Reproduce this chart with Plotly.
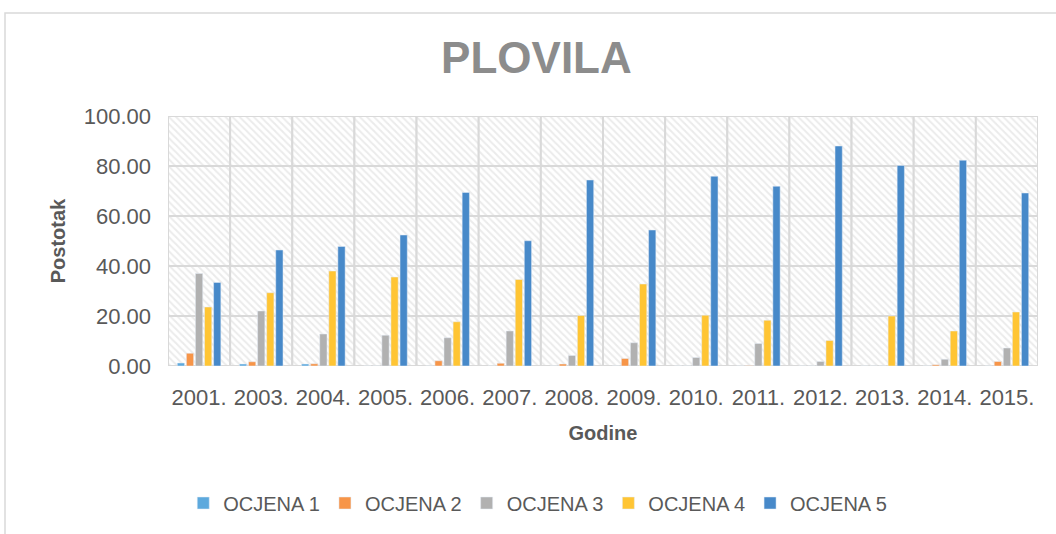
import plotly.graph_objects as go

# data
godine = ['2001.', '2003.', '2004.', '2005.', '2006.', '2007.', '2008.',
          '2009.', '2010.', '2011.', '2012.', '2013.', '2014.', '2015.']
ocjena_1 = [1.2, 0.8, 0.8, 0, 0, 0, 0, 0, 0, 0, 0, 0, 0, 0]
ocjena_2 = [5.1, 1.7, 0.9, 0, 2.1, 1.1, 0.8, 3.0, 0, 0.2, 0, 0, 0.5, 1.8]
ocjena_3 = [37.0, 22.0, 12.8, 12.3, 11.3, 14.0, 4.2, 9.3, 3.4, 9.0, 1.8, 0, 2.7, 7.2]
ocjena_4 = [23.6, 29.3, 38.0, 35.6, 17.7, 34.6, 20.2, 32.8, 20.3, 18.3, 10.2, 20.0, 14.0, 21.6]
ocjena_5 = [33.4, 46.4, 47.8, 52.4, 69.4, 50.1, 74.4, 54.4, 75.9, 71.9, 88.0, 80.2, 82.3, 69.2]
y_ticks = [0, 20, 40, 60, 80, 100]

series = [('OCJENA 1', ocjena_1, '#5DA9DD'),
          ('OCJENA 2', ocjena_2, '#F79548'),
          ('OCJENA 3', ocjena_3, '#B1B1B1'),
          ('OCJENA 4', ocjena_4, '#FFC534'),
          ('OCJENA 5', ocjena_5, '#4789C9')]

fnt = 'Liberation Sans, Arial, sans-serif'
txt = '#595959'

fig = go.Figure()

# hatched plot background, cell borders act as gridlines
bg_x, bg_base = [], []
for lo in y_ticks[:-1]:
    bg_x += godine
    bg_base += [lo] * len(godine)
fig.add_trace(go.Bar(x=bg_x, y=[20] * len(bg_x), base=bg_base, width=1, offset=-0.5,
                     marker=dict(color='white',
                                 pattern=dict(shape='\\', fgcolor='#d8d8d8', bgcolor='white',
                                              size=5, solidity=0.4),
                                 line=dict(color='#d9d9d9', width=2)),
                     showlegend=False, hoverinfo='skip', xaxis='x', yaxis='y'))

for name, vals, col in series:
    fig.add_trace(go.Bar(x=godine, y=vals, name=name, marker_color=col,
                         xaxis='x2', yaxis='y2'))

fig.update_layout(
    width=1056, height=534, autosize=False,
    paper_bgcolor='white', plot_bgcolor='white',
    margin=dict(l=168, r=18, t=116, b=168),
    barmode='group', bargap=0.27, bargroupgap=0.2,
    font=dict(family=fnt, color=txt),
    title=dict(text='<b>PLOVILA</b>', x=0.508, xanchor='center', y=0.893, yanchor='middle',
               font=dict(size=44, color='#8c8c8c', family=fnt)),
    xaxis=dict(type='category', categoryorder='array', categoryarray=godine,
               range=[-0.5, 13.5], showgrid=False, zeroline=False, showline=False,
               ticks='', ticklabelstandoff=16, tickfont=dict(size=22, color=txt),
               automargin=False,
               title=dict(text='<b>Godine</b>', font=dict(size=20, color=txt), standoff=16)),
    yaxis=dict(range=[0, 100], tickvals=y_ticks, tickformat='.2f', showgrid=False,
               zeroline=False, showline=False, ticks='', ticklabelstandoff=16,
               tickfont=dict(size=22, color=txt), automargin=False,
               title=dict(text='<b>Postotak</b>', font=dict(size=20, color=txt), standoff=12)),
    xaxis2=dict(type='category', categoryorder='array', categoryarray=godine,
                range=[-0.5, 13.5], overlaying='x', visible=False),
    yaxis2=dict(range=[0, 100], overlaying='y', visible=False),
    legend=dict(orientation='h', x=0.425, xanchor='center', y=-0.548, yanchor='middle',
                font=dict(size=20, color=txt), itemwidth=30, traceorder='normal'),
)

# outer chart frame
fig.add_shape(type='rect', xref='paper', yref='paper',
              x0=(5 - 168) / 870, x1=(1060 - 168) / 870,
              y0=(366 - 540) / 250, y1=(366 - 13) / 250,
              line=dict(color='#d9d9d9', width=1.5), fillcolor='rgba(0,0,0,0)', layer='below')

fig.write_html('out.html', config={'displayModeBar': False},
               post_script="document.body.style.margin='0';")
